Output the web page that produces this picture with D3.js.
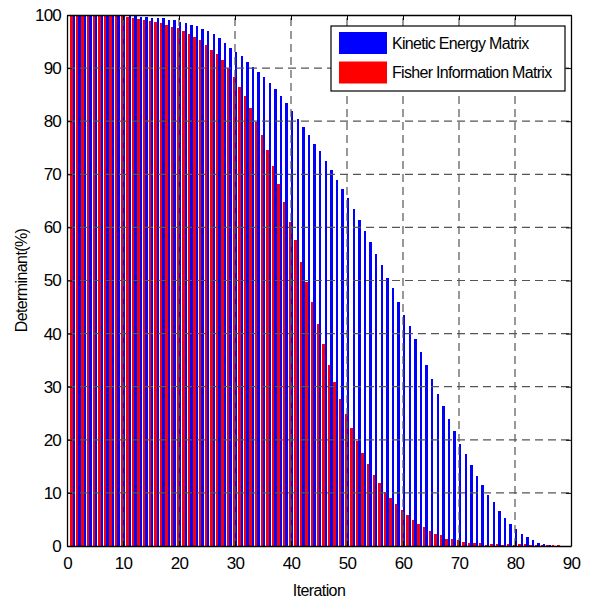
<!DOCTYPE html>
<html lang="en">

<head>
    <meta charset="UTF-8">
    <script src="https://d3js.org/d3.v7.min.js"></script>
    <style>
        body {
            margin: 0;
            background: white;
        }

        text {
            font-family: "Liberation Sans", Arial, sans-serif;
            fill: black;
        }

        .grid line {
            stroke: #555;
            stroke-width: 1.2;
            stroke-dasharray: 8 5;
        }

        rect.fisher,
        rect.kinetic {
            shape-rendering: crispEdges;
        }
    </style>
</head>

<body>
    <svg id="chart" width="591" height="601"></svg>

    <script>
        // determinant (%) per iteration
        const kineticEnergy = [
            100, 100, 100, 100, 100, 100, 100, 100, 100, 100,
            100, 99.8, 99.7, 99.7, 99.5, 99.4, 99.4, 99.1, 99.0, 98.7,
            98.5, 98.2, 97.9, 97.4, 97.0, 96.4, 95.6, 94.8, 93.8, 93.0,
            92.2, 91.2, 90.3, 89.2, 88.3, 87.1, 86.0, 84.8, 83.4, 81.9,
            80.4, 79.0, 77.4, 75.7, 74.3, 72.5, 70.8, 68.9, 67.2, 65.5,
            63.5, 61.4, 59.3, 57.2, 54.9, 52.9, 50.5, 48.5, 45.9, 43.5,
            41.5, 38.9, 36.6, 34.0, 31.4, 28.6, 26.4, 24.0, 21.7, 19.3,
            17.3, 15.3, 13.2, 11.4, 9.6, 8.2, 6.5, 5.3, 4.1, 3.2,
            2.3, 1.7, 1.1, 0.6, 0.3, 0.1, 0.05, 0
        ];
        const fisherInfo = [
            100, 100, 100, 100, 100, 100, 100, 100, 100, 99.8,
            99.6, 99.4, 99.3, 99.1, 98.9, 98.7, 98.5, 98.1, 97.8, 97.5,
            97.0, 96.4, 95.9, 95.3, 94.4, 93.5, 92.7, 91.5, 90.0, 88.3,
            86.5, 84.7, 82.4, 79.8, 77.4, 74.6, 71.6, 68.2, 64.7, 61.1,
            57.6, 53.5, 49.8, 45.9, 41.9, 38.0, 34.1, 30.9, 27.7, 24.9,
            22.2, 19.8, 17.5, 15.4, 13.4, 11.9, 10.1, 9.0, 7.9, 6.7,
            5.8, 4.9, 4.1, 3.5, 2.8, 2.3, 2.0, 1.4, 1.4, 1.1,
            0.8, 0.6, 0.6, 0.6, 0.2, 0.3, 0.3, 0.2, 0.3, 0.2,
            0.3, 0.3, 0.2, 0.2, 0.2, 0.1, 0.1, 0.1
        ];
        const iterations = kineticEnergy.map((d, i) => i + 1);
        const xTicks = [0, 10, 20, 30, 40, 50, 60, 70, 80, 90];
        const yTicks = [0, 10, 20, 30, 40, 50, 60, 70, 80, 90, 100];
        const seriesNames = ["Kinetic Energy Matrix", "Fisher Information Matrix"];
        const seriesColors = ["#0000ff", "#ff0000"];

        const svg = d3.select("#chart");
        const margin = { left: 67, right: 20, top: 15, bottom: 55 };
        const width = +svg.attr("width");
        const height = +svg.attr("height");

        const x = d3.scaleLinear().domain([0, 90]).range([margin.left, width - margin.right]);
        const y = d3.scaleLinear().domain([0, 100]).range([height - margin.bottom, margin.top]);
        const barW = 0.42; // data units, one bar
        const px = v => Math.round(x(v));

        const layer = svg.append("g");

        // red on the left of each iteration, blue on the right
        layer.selectAll("rect.fisher")
            .data(iterations)
            .join("rect")
            .attr("class", "fisher")
            .attr("x", d => px(d - barW))
            .attr("width", d => px(d) - px(d - barW))
            .attr("y", (d, i) => y(fisherInfo[i]))
            .attr("height", (d, i) => y(0) - y(fisherInfo[i]))
            .attr("fill", seriesColors[1]);

        layer.selectAll("rect.kinetic")
            .data(iterations)
            .join("rect")
            .attr("class", "kinetic")
            .attr("x", d => px(d))
            .attr("width", d => px(d + barW) - px(d))
            .attr("y", (d, i) => y(kineticEnergy[i]))
            .attr("height", (d, i) => y(0) - y(kineticEnergy[i]))
            .attr("fill", seriesColors[0]);

        // grid goes over the bars like in the original
        const grid = svg.append("g").attr("class", "grid");
        grid.selectAll("line.v")
            .data(xTicks.slice(1, -1))
            .join("line")
            .attr("x1", d => x(d)).attr("x2", d => x(d))
            .attr("y1", y(0)).attr("y2", y(100));
        grid.selectAll("line.h")
            .data(yTicks.slice(1, -1))
            .join("line")
            .attr("class", "h")
            .attr("x1", x(0)).attr("x2", x(90))
            .attr("y1", d => y(d)).attr("y2", d => y(d));

        // axes, ticks pointing inwards
        const bottomAxis = d3.axisBottom(x).tickValues(xTicks).tickSizeInner(-5).tickSizeOuter(0).tickPadding(10);
        const leftAxis = d3.axisLeft(y).tickValues(yTicks).tickSizeInner(-5).tickSizeOuter(0).tickPadding(6);
        const topAxis = d3.axisTop(x).tickValues(xTicks).tickSizeInner(-5).tickSizeOuter(0).tickFormat("");
        const rightAxis = d3.axisRight(y).tickValues(yTicks).tickSizeInner(-5).tickSizeOuter(0).tickFormat("");

        const gx = svg.append("g").attr("transform", `translate(0,${y(0)})`).call(bottomAxis);
        const gy = svg.append("g").attr("transform", `translate(${x(0)},0)`).call(leftAxis);
        svg.append("g").attr("transform", `translate(0,${y(100)})`).call(topAxis);
        svg.append("g").attr("transform", `translate(${x(90)},0)`).call(rightAxis);

        svg.selectAll(".domain").attr("stroke", "black").attr("stroke-width", 1.3);
        svg.selectAll(".tick line").attr("stroke", "black");
        gx.selectAll("text").style("font-size", "17px").style("letter-spacing", "-0.8px").attr("dy", "0.75em");
        gy.selectAll("text").style("font-size", "17px").style("letter-spacing", "-0.8px");

        svg.append("text")
            .attr("x", 319)
            .attr("y", 596)
            .attr("text-anchor", "middle")
            .style("font-size", "16px")
            .style("letter-spacing", "-0.6px")
            .text("Iteration");

        svg.append("text")
            .attr("transform", `translate(27,${(y(0) + y(100)) / 2}) rotate(-90)`)
            .attr("text-anchor", "middle")
            .style("font-size", "16px")
            .style("letter-spacing", "-0.6px")
            .text("Determinant(%)");

        // legend
        const legend = svg.append("g").attr("transform", "translate(331,26)");
        legend.append("rect")
            .attr("width", 234).attr("height", 65)
            .attr("fill", "white").attr("stroke", "black").attr("stroke-width", 1.2);
        seriesNames.forEach((name, i) => {
            legend.append("rect")
                .attr("x", 8).attr("y", 6 + i * 29.5)
                .attr("width", 48).attr("height", 22)
                .attr("fill", seriesColors[i]);
            legend.append("text")
                .attr("x", 61).attr("y", 17 + i * 29.5)
                .attr("dy", "0.35em")
                .style("font-size", "16px")
                .style("letter-spacing", "-0.7px")
                .text(name);
        });
    </script>
</body>

</html>
